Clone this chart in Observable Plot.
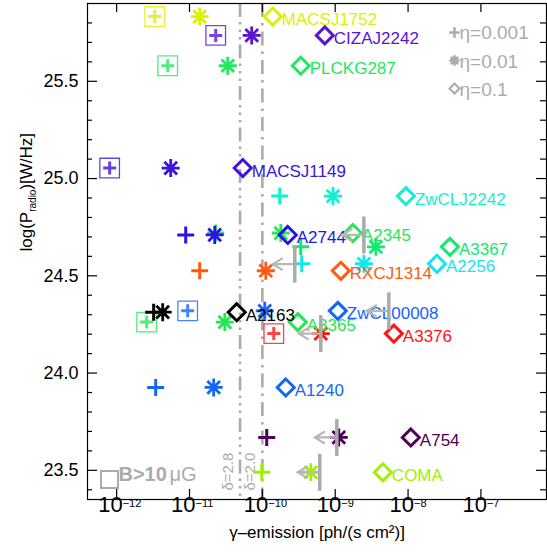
<!DOCTYPE html>
<html><head><meta charset="utf-8">
<script src="https://cdn.jsdelivr.net/npm/d3@7"></script>
<script src="https://cdn.jsdelivr.net/npm/@observablehq/plot@0.6"></script>
<style>body{margin:0;background:#fff}#chart svg{display:block}</style>
</head><body><div id="chart"></div>
<script>
// ---- data ----
const clusters = ["MACSJ1752","CIZAJ2242","PLCKG287","MACSJ1149","ZwCLJ2242","A2744","A2345","A3367","RXCJ1314","A2256","A2163","ZwCL00008","A3365","A3376","A1240","A754","COMA"];
const colors = ["#dcf000","#5a14d2","#22e860","#3c14e0","#14f0d2","#2814e6","#22e85a","#14e872","#ff5a14","#14e6f0","#000000","#1464ff","#22e850","#ff1414","#1468f0","#500056","#a0f000"];
const logP = [25.833,25.736,25.580,25.054,24.910,24.710,24.720,24.649,24.526,24.562,24.313,24.320,24.262,24.203,23.926,23.669,23.490];
const logFluxEta001 = [-11.478,-10.640,-11.299,-12.096,-9.761,-11.052,-10.640,-9.473,-10.860,-9.459,-11.492,-11.025,-11.588,-9.843,-11.464,-9.940,-10.008];
const logFluxEta01  = [-10.860,-10.146,-10.475,-11.258,-9.030,-10.654,-9.747,-8.442,-9.953,-8.607,-11.368,-9.967,-10.516,-9.198,-10.668,-8.951,-9.335];
const logFluxEta1   = [-9.857,-9.143,-9.473,-10.269,-8.030,-9.651,-8.758,-7.426,-8.923,-7.604,-10.352,-8.964,-9.514,-8.195,-9.679,-7.962,-8.346];
const strongB = [1,1,1,1,0,0,0,0,0,0,0,1,1,1,0,0,0];

const ulCluster = ["RXCJ1314","A2345","ZwCL00008","A3376","A754","COMA"];
const ulLogFlux = [-9.555,-8.607,-8.264,-9.198,-8.978,-9.212];
const ulLogP    = [24.56,24.71,24.32,24.203,23.669,23.49];

const deltaLabels = ["δ=2.8","δ=2.0"];
const deltaLogFlux = [-10.306,-10.0];

const xTickExp = [-12,-11,-10,-9,-8,-7];
const yMajor = [23.5,24.0,24.5,25.0,25.5];
const yMinor = d3.range(234,259).map(d=>d/10).filter(v=>!yMajor.some(m=>Math.abs(m-v)<1e-9));
const legendEta = ["η=0.001","η=0.01","η=0.1"];

// ---- layout ----
const W=547,H=558,mL=87,mR=1,mT=3,mB=59;
const pw=W-mL-mR, ph=H-mT-mB;
const gray="#ababab";
const FONT="Liberation Sans, Arial, Helvetica, sans-serif";

// custom symbols
const ast8 = {draw(ctx,size){const r=Math.sqrt(size/Math.PI);const d=r*Math.SQRT1_2;
  ctx.moveTo(-r,0);ctx.lineTo(r,0);ctx.moveTo(0,-r);ctx.lineTo(0,r);
  ctx.moveTo(-d,-d);ctx.lineTo(d,d);ctx.moveTo(-d,d);ctx.lineTo(d,-d);}};
const plusS = {draw(ctx,size){const r=Math.sqrt(size/Math.PI);ctx.moveTo(-r,0);ctx.lineTo(r,0);ctx.moveTo(0,-r);ctx.lineTo(0,r);}};
const diaS = {draw(ctx,size){const r=Math.sqrt(size/Math.PI);ctx.moveTo(0,-r);ctx.lineTo(r,0);ctx.lineTo(0,r);ctx.lineTo(-r,0);ctx.closePath();}};
const sqS = {draw(ctx,size){const r=Math.sqrt(size/Math.PI);ctx.rect(-r,-r,2*r,2*r);}};
const vbar = {draw(ctx,size){const r=Math.sqrt(size/Math.PI);ctx.moveTo(0,-r);ctx.lineTo(0,r);}};
const larrow = {draw(ctx,size){const r=Math.sqrt(size/Math.PI);ctx.moveTo(0,0);ctx.lineTo(-r,0);
  ctx.moveTo(-r+10,-6);ctx.lineTo(-r,0);ctx.lineTo(-r+10,6);}};

const idx = d3.range(clusters.length);
const boxedIdx = idx.filter(i=>strongB[i]);
const plainIdx = idx.filter(i=>!strongB[i]);
const ulIdx = d3.range(ulCluster.length);
const X = e=>10**e;

const marks = [
  // delta lines
  Plot.ruleX([0],{x:()=>X(deltaLogFlux[0]),stroke:gray,strokeWidth:2.6,strokeDasharray:"14,5,2.5,5,2.5,5,2.5,5"}),
  Plot.ruleX([1],{x:()=>X(deltaLogFlux[1]),stroke:gray,strokeWidth:2.6,strokeDasharray:"14,6,2.5,6"}),
  Plot.text([0,1],{x:i=>X(deltaLogFlux[i]),frameAnchor:"bottom",dx:-12,dy:-9,rotate:-90,text:i=>deltaLabels[i],textAnchor:"start",lineAnchor:"middle",fill:gray,fontSize:15}),
  // markers
  Plot.dot(boxedIdx,{x:i=>X(logFluxEta001[i]),y:i=>logP[i],symbol:sqS,r:9.8,stroke:i=>colors[i],strokeWidth:1.3,strokeOpacity:0.8}),
  Plot.dot(boxedIdx,{x:i=>X(logFluxEta001[i]),y:i=>logP[i],symbol:plusS,r:6.5,stroke:i=>colors[i],strokeWidth:3,strokeOpacity:0.8}),
  Plot.dot(plainIdx,{x:i=>X(logFluxEta001[i]),y:i=>logP[i],symbol:plusS,r:8.5,stroke:i=>colors[i],strokeWidth:3}),
  Plot.dot(idx,{x:i=>X(logFluxEta01[i]),y:i=>logP[i],symbol:ast8,r:9,stroke:i=>colors[i],strokeWidth:2.8}),
  Plot.dot(idx,{x:i=>X(logFluxEta1[i]),y:i=>logP[i],symbol:diaS,r:8.5,stroke:i=>colors[i],strokeWidth:3}),
  Plot.text(idx,{x:i=>X(logFluxEta1[i]),y:i=>logP[i],text:i=>clusters[i],fill:i=>colors[i],dx:9,dy:3,textAnchor:"start",fontSize:17}),
  // upper limits
  Plot.dot(ulIdx,{x:i=>X(ulLogFlux[i]),y:i=>ulLogP[i],symbol:larrow,r:22,stroke:"#b8b8b8",strokeWidth:2.2}),
  Plot.dot(ulIdx,{x:i=>X(ulLogFlux[i]),y:i=>ulLogP[i],symbol:vbar,r:18.5,stroke:gray,strokeWidth:3.5}),
  // legend eta
  ...[plusS,ast8,diaS].map((s,k)=>Plot.dot([k],{frameAnchor:"top-right",dx:-92,dy:29+28*k,symbol:s,r:k==2?5:5.2,stroke:gray,strokeWidth:k==2?2:2.5})),
  ...legendEta.map((t,k)=>Plot.text([t],{frameAnchor:"top-right",dx:-87,dy:22+28.5*k,text:d=>d,textAnchor:"start",fill:gray,fontSize:19})),
  // B legend
  Plot.dot([0],{frameAnchor:"bottom-left",dx:22,dy:-20,symbol:sqS,r:8.5,stroke:gray,strokeWidth:2}),
  Plot.text(["B>10"],{frameAnchor:"bottom-left",dx:31,dy:-19,text:d=>d,textAnchor:"start",fill:gray,fontSize:20,fontWeight:"bold"}),
  Plot.text(["μG"],{frameAnchor:"bottom-left",dx:82,dy:-19,text:d=>d,textAnchor:"start",fill:gray,fontSize:20}),
  // frame & ticks
  Plot.frame({stroke:"black",strokeWidth:1.2}),
  Plot.ruleX(xTickExp,{x:X,insetTop:ph-10,stroke:"black",strokeWidth:1.2}),
  Plot.ruleX(xTickExp,{x:X,insetBottom:ph-9,stroke:"black",strokeWidth:1.2}),
  Plot.ruleY(yMajor,{y:d=>d,insetRight:pw-10,stroke:"black",strokeWidth:1.2}),
  Plot.ruleY(yMajor,{y:d=>d,insetLeft:pw-10,stroke:"black",strokeWidth:1.2}),
  Plot.ruleY(yMinor,{y:d=>d,insetRight:pw-5,stroke:"black",strokeWidth:1.2}),
  Plot.ruleY(yMinor,{y:d=>d,insetLeft:pw-6,stroke:"black",strokeWidth:1.2}),
  // tick labels
  Plot.text(yMajor,{y:d=>d,frameAnchor:"left",dx:-9,text:d=>d.toFixed(1),textAnchor:"end",fill:"black",fontSize:18}),
  Plot.text(xTickExp,{x:X,frameAnchor:"bottom",dx:6,dy:12,text:()=>"10",textAnchor:"end",fill:"black",fontSize:22}),
  Plot.text(xTickExp,{x:X,frameAnchor:"bottom",dx:6,dy:7,text:d=>"\u2212"+Math.abs(d),textAnchor:"start",fill:"black",fontSize:11}),
  // axis titles
  Plot.text(["γ\u2013emission [ph/(s cm²)]"],{frameAnchor:"bottom",dy:38,text:d=>d,fill:"black",fontSize:17}),
  Plot.text(["log(Pradio)[W/Hz]"],{frameAnchor:"left",dx:-61,rotate:-90,text:d=>d,fill:"black",fontSize:17})
];

const chart = Plot.plot({
  width:W,height:H,marginLeft:mL,marginRight:mR,marginTop:mT,marginBottom:mB,
  x:{type:"log",domain:[10**-12.4,10**-6.1],axis:null},
  y:{domain:[23.35,25.9],axis:null},
  color:{type:"identity"},
  style:{fontFamily:FONT,background:"white",overflow:"visible"},
  marks
});
document.getElementById("chart").appendChild(chart);

// subscript for the y title
d3.select(chart).selectAll("text").each(function(){
  if (this.textContent==="log(Pradio)[W/Hz]"){
    const t=d3.select(this); t.text("");
    t.append("tspan").text("log(P");
    t.append("tspan").attr("font-size",10).attr("dy",4).text("radio");
    t.append("tspan").attr("dy",-4).text(")[W/Hz]");
  }
});
</script></body></html>
